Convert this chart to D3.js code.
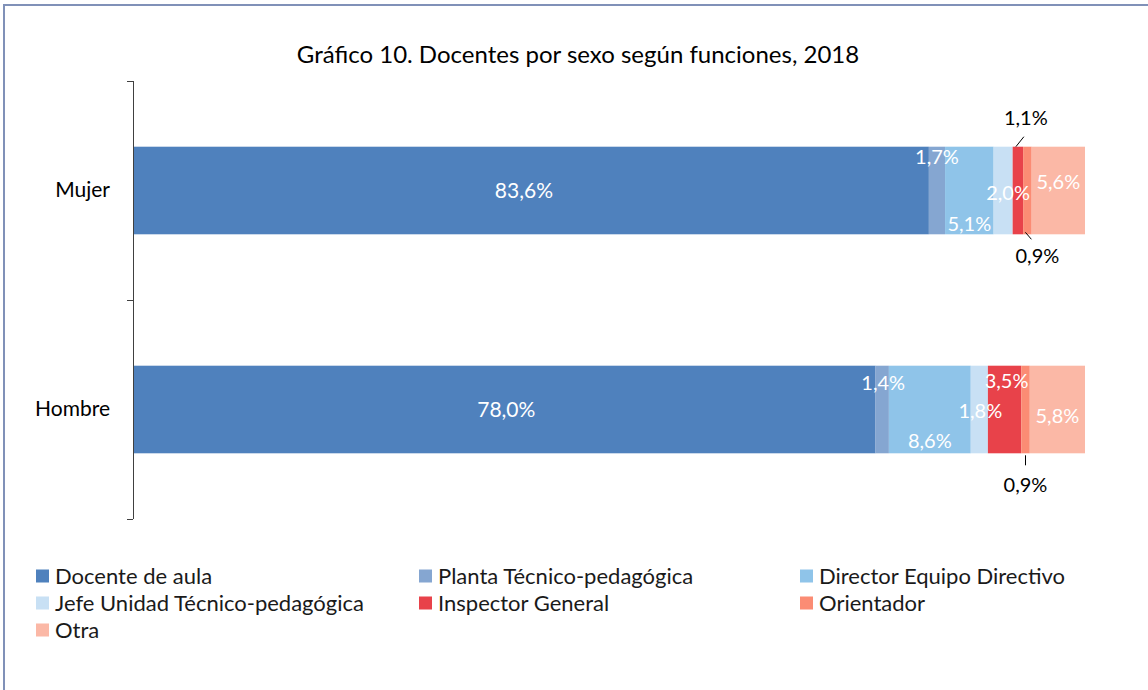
<!DOCTYPE html>
<html>
<head>
<meta charset="utf-8">
<script src="https://cdn.jsdelivr.net/npm/d3@7"></script>
<style>
  body { margin: 0; background: #fff; }
  svg text { font-family: Lato, "Open Sans", sans-serif; }
</style>
</head>
<body>
<div id="chart"></div>
<script>
var categories = ['Mujer', 'Hombre'];
var seriesNames = ['Docente de aula', 'Planta Técnico-pedagógica', 'Director Equipo Directivo',
    'Jefe Unidad Técnico-pedagógica', 'Inspector General', 'Orientador', 'Otra'];
var mujerValues = [83.6, 1.7, 5.1, 2.0, 1.1, 0.9, 5.6];
var hombreValues = [78.0, 1.4, 8.6, 1.8, 3.5, 0.9, 5.8];
var colors = ['#4f81bd', '#85a6d1', '#8fc4e9', '#c8e0f4', '#e8424a', '#fb8c74', '#fbb8a6'];

// where Excel put each data label (placement, dy from bar middle, dx)
var mujerLabelPos = [['in', 0, -7], ['in', -34, 0], ['in', 33, 0], ['in', 2, 5], ['above', 0, 0], ['below', 0, 3], ['in', -9, 0]];
var hombreLabelPos = [['in', 0, 2], ['in', -27, 1], ['in', 31, 0], ['in', 1, 1], ['in', -29, 2], ['belowV', 0, 0], ['in', 6, 0]];

var width = 1148,
    height = 690,
    svg = d3.select('#chart')
    .append('svg')
    .attr('width', width)
    .attr('height', height);

// outer frame
svg.append('rect')
    .attr('x', 4).attr('y', 5)
    .attr('width', width + 10).attr('height', height + 10)
    .attr('fill', 'none')
    .attr('stroke', '#8091b8')
    .attr('stroke-width', 2);

svg.append('text')
    .attr('x', 578).attr('y', 63)
    .attr('text-anchor', 'middle')
    .attr('font-size', 24)
    .attr('fill', '#000')
    .text('Gráfico 10. Docentes por sexo según funciones, 2018');

var x = d3.scaleLinear().domain([0, 100]).range([133, 1085]);
var y = d3.scaleBand().domain(categories).range([81, 519]).paddingInner(0.6).paddingOuter(0.3);

var rows = [
    { cat: 'Mujer', values: mujerValues, pos: mujerLabelPos },
    { cat: 'Hombre', values: hombreValues, pos: hombreLabelPos }
];

var fmt = function(v) { return d3.format('.1f')(v).replace('.', ',') + '%'; };
var lblSize = 20;

rows.forEach(function(row) {
    var acc = 0;
    var segs = row.values.map(function(v, i) {
        var s = { i: i, v: v, x0: acc, x1: acc + v, pos: row.pos[i] };
        acc += v;
        return s;
    });
    var g = svg.append('g');
    var y0 = y(row.cat), bh = y.bandwidth(), ym = y0 + bh / 2;

    g.selectAll('rect')
        .data(segs)
        .enter()
        .append('rect')
        .attr('x', function(d) { return x(d.x0); })
        .attr('width', function(d) { return x(d.x1) - x(d.x0); })
        .attr('y', y0)
        .attr('height', bh)
        .attr('fill', function(d) { return colors[d.i]; });

    segs.forEach(function(d) {
        var cx = (x(d.x0) + x(d.x1)) / 2;
        var mode = d.pos[0], tx = cx + d.pos[2];
        if (mode === 'in') {
            g.append('text')
                .attr('x', tx).attr('y', ym + d.pos[1])
                .attr('dy', '0.35em')
                .attr('text-anchor', 'middle')
                .attr('font-size', d.i === 0 ? 21 : lblSize)
                .attr('fill', '#fff')
                .text(fmt(d.v));
        } else if (mode === 'above') {
            g.append('line')
                .attr('x1', cx - 2).attr('y1', y0)
                .attr('x2', cx + 6).attr('y2', y0 - 10)
                .attr('stroke', '#000');
            g.append('text')
                .attr('x', tx + 8).attr('y', y0 - 29)
                .attr('dy', '0.35em')
                .attr('text-anchor', 'middle')
                .attr('font-size', lblSize)
                .text(fmt(d.v));
        } else if (mode === 'below') {
            g.append('line')
                .attr('x1', cx - 2).attr('y1', y0 + bh - 2)
                .attr('x2', cx + 4).attr('y2', y0 + bh + 5)
                .attr('stroke', '#000');
            g.append('text')
                .attr('x', tx + 7).attr('y', y0 + bh + 22)
                .attr('dy', '0.35em')
                .attr('text-anchor', 'middle')
                .attr('font-size', lblSize)
                .text(fmt(d.v));
        } else {
            g.append('line')
                .attr('x1', cx).attr('y1', y0 + bh + 2)
                .attr('x2', cx).attr('y2', y0 + bh + 12)
                .attr('stroke', '#000');
            g.append('text')
                .attr('x', tx).attr('y', y0 + bh + 32)
                .attr('dy', '0.35em')
                .attr('text-anchor', 'middle')
                .attr('font-size', lblSize)
                .text(fmt(d.v));
        }
    });
});

// category axis
var yAxis = svg.append('g')
    .attr('transform', 'translate(133,0)')
    .call(d3.axisLeft(y).tickSize(0).tickPadding(23));
yAxis.select('.domain').remove();
yAxis.selectAll('text')
    .attr('font-family', 'Lato, "Open Sans", sans-serif')
    .attr('font-size', 21)
    .attr('fill', '#000');

var bounds = [81].concat(categories.map(function(c) { return y(c) + y.step() * (1 - y.paddingInner()) + y.step() * y.paddingInner() / 2; }));
svg.append('line')
    .attr('x1', 133.5).attr('x2', 133.5)
    .attr('y1', 81).attr('y2', 519)
    .attr('stroke', '#404040');
svg.selectAll('.tick-mark')
    .data(bounds)
    .enter()
    .append('line')
    .attr('class', 'tick-mark')
    .attr('x1', 127).attr('x2', 133)
    .attr('y1', function(d) { return Math.round(d) + 0.5; })
    .attr('y2', function(d) { return Math.round(d) + 0.5; })
    .attr('stroke', '#404040');

// legend
var legCols = [36, 419, 800];
var legend = svg.selectAll('.legend')
    .data(seriesNames)
    .enter()
    .append('g')
    .attr('class', 'legend')
    .attr('transform', function(d, i) {
        return 'translate(' + legCols[i % 3] + ',' + (576 + Math.floor(i / 3) * 27) + ')';
    });
legend.append('rect')
    .attr('x', 0).attr('y', -6.5)
    .attr('width', 13).attr('height', 13)
    .attr('fill', function(d, i) { return colors[i]; });
legend.append('text')
    .attr('x', 19).attr('y', 0)
    .attr('dy', '0.35em')
    .attr('font-size', 22)
    .attr('fill', '#1a1a1a')
    .text(function(d) { return d; });
</script>
</body>
</html>
